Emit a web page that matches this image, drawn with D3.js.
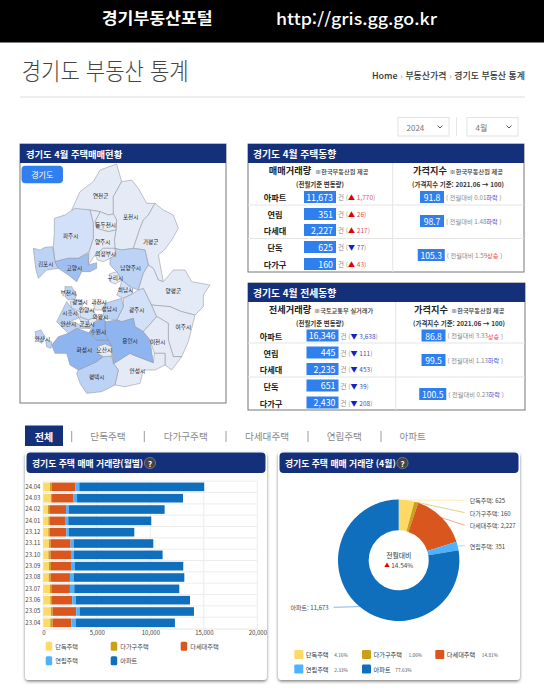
<!DOCTYPE html>
<html lang="ko"><head><meta charset="utf-8">
<style>html,body{margin:0;padding:0;background:#fff;overflow:hidden}svg{display:block}
text{font-family:"Noto Sans CJK KR","Noto Sans",sans-serif}</style>
<script src="https://cdnjs.cloudflare.com/ajax/libs/d3/7.9.0/d3.min.js"></script></head><body>
<svg id="c" width="544" height="697" xmlns="http://www.w3.org/2000/svg"></svg>
<script>
// ---------- DATA ----------
const types=["단독주택","다가구주택","다세대주택","연립주택","아파트"];
const typeColors=["#ffd966","#c9a017","#d9561f","#4db3ff","#0f6fbd"];
const months=["24.04","24.03","24.02","24.01","23.12","23.11","23.10","23.09","23.08","23.07","23.06","23.05","23.04"];
const detached=[625,702,430,470,470,530,480,530,520,620,650,715,650];
const multiFamily=[160,117,130,130,130,155,200,186,170,130,160,155,220];
const multiplex=[2227,2010,1560,1425,1550,1870,1905,1869,1800,1740,1900,2215,1745];
const rowHouse=[351,325,250,310,250,280,281,375,345,405,340,310,405];
const apartment=[11673,9903,8970,7755,6105,7445,8284,10120,10345,9815,10660,10685,9280];
const xTicks=[0,5000,10000,15000,20000];
const pieValues=[625,160,2227,351,11673];
const piePercents=["4.16%","1.06%","14.81%","2.33%","77.63%"];
const tabs=["전체","단독주택","다가구주택","다세대주택","연립주택","아파트"];
const saleRows=[["아파트","11,673","up","1,770"],["연립","351","up","26"],["다세대","2,227","up","217"],["단독","625","down","77"],["다가구","160","up","43"]];
const salePrices=[["91.8","0.01","하락"],["98.7","1.48","하락"],["105.3","1.59","상승"]];
const rentRows=[["아파트","16,346","down","3,638"],["연립","445","down","111"],["다세대","2,235","down","453"],["단독","651","down","39"],["다가구","2,430","down","208"]];
const rentPrices=[["86.8","3.33","상승"],["99.5","1.13","하락"],["100.5","0.23","하락"]];
const mapShades=["#e5ebf6","#d2e1f8","#bdd3f6","#9fbff2","#8fb5f0"];
const mapRegions=[
["연천군",0,257,167,[[170,210],[195,155],[235,125],[255,90],[305,72],[320,125],[295,170],[295,222],[280,225],[255,215],[225,210]]],
["포천시",0,347,232,[[295,222],[295,170],[320,125],[350,120],[370,145],[395,190],[420,190],[400,225],[385,240],[375,265],[355,325],[320,330],[300,325],[298,300],[303,270],[305,240]]],
["가평군",0,407,305,[[420,190],[445,210],[475,225],[490,265],[470,300],[448,330],[430,345],[445,425],[430,420],[415,385],[400,375],[390,330],[355,325],[375,265],[385,240],[400,225]]],
["동두천시",0,272,255,[[240,245],[255,215],[280,225],[295,222],[305,240],[303,270],[280,275],[245,265]]],
["양주시",0,263,307,[[225,210],[255,215],[240,245],[245,265],[280,275],[303,270],[298,300],[300,325],[265,325],[240,345],[220,375],[222,335],[235,295],[235,250]]],
["파주시",1,167,289,[[118,235],[150,225],[180,205],[225,210],[235,250],[235,295],[222,335],[190,355],[160,355],[120,365],[115,320],[118,280]]],
["김포시",2,92,371,[[55,325],[75,330],[90,322],[113,320],[120,365],[130,385],[95,390],[70,415],[62,385],[58,350]]],
["고양시",3,178,385,[[120,365],[160,355],[190,355],[220,340],[220,375],[245,368],[245,385],[225,395],[200,395],[185,425],[160,405],[130,385]]],
["의정부시",0,272,343,[[240,345],[265,325],[300,325],[303,345],[285,355],[265,365],[248,360]]],
["남양주시",2,347,384,[[285,355],[303,345],[300,325],[320,330],[355,325],[390,330],[400,375],[385,400],[370,450],[345,440],[320,420],[305,395],[285,375]]],
["구리시",0,301,413,[[283,402],[305,395],[320,420],[300,432],[285,425]]],
["하남시",1,332,451,[[320,420],[345,440],[352,462],[325,475],[305,465],[315,445]]],
["광주시",1,365,510,[[325,475],[352,462],[370,450],[385,445],[400,475],[410,495],[425,530],[385,575],[360,560],[355,535],[320,545],[305,540],[325,500]]],
["양평군",0,475,452,[[385,400],[400,375],[415,385],[430,420],[445,425],[475,390],[510,390],[530,425],[585,435],[565,465],[565,500],[540,525],[500,515],[465,500],[410,495],[400,475],[385,445],[370,450]]],
["여주시",0,505,561,[[410,495],[465,500],[500,515],[540,525],[530,565],[520,605],[500,650],[475,650],[460,600],[460,550],[430,532],[425,530]]],
["이천시",0,428,607,[[382,575],[385,575],[425,530],[430,532],[460,550],[460,600],[475,650],[500,650],[470,690],[450,675],[450,640],[418,640],[405,600]]],
["안성시",0,367,694,[[295,670],[345,640],[355,645],[415,668],[418,640],[450,640],[450,675],[420,690],[385,690],[375,730],[330,740],[300,735],[310,690]]],
["용인시",4,345,602,[[270,545],[305,540],[320,545],[355,535],[360,560],[385,575],[405,600],[415,668],[355,645],[345,640],[295,672],[290,620],[280,600],[270,580]]],
["평택시",2,245,712,[[190,690],[245,665],[265,648],[290,648],[295,670],[310,690],[300,735],[260,755],[215,760],[195,730],[185,700]]],
["화성시",4,208,630,[[110,615],[130,590],[160,580],[185,565],[222,578],[245,600],[280,600],[290,620],[270,612],[247,620],[248,640],[265,650],[245,665],[190,690],[165,675],[155,640],[120,640]]],
["오산시",0,268,630,[[247,620],[270,612],[290,620],[290,648],[265,650],[248,640]]],
["수원시",4,250,575,[[222,578],[240,545],[270,535],[270,580],[280,600],[245,600]]],
["성남시",2,283,508,[[270,490],[320,475],[325,500],[305,540],[270,535],[265,525]]],
["과천시",0,252,487,[[235,490],[270,490],[265,510],[240,510]]],
["안양시",1,215,509,[[195,515],[235,510],[245,530],[220,540],[195,530]]],
["의왕시",0,256,531,[[220,540],[245,530],[265,530],[240,545],[225,565]]],
["군포시",1,216,553,[[190,530],[220,540],[225,562],[205,560]]],
["광명시",1,195,487,[[165,485],[190,480],[205,490],[195,515],[170,505]]],
["부천시",2,160,460,[[150,440],[170,440],[185,465],[180,478],[160,480],[150,470]]],
["시흥시",2,165,519,[[125,545],[155,485],[170,505],[190,520],[190,535],[175,540],[140,560]]],
["안산시",2,160,553,[[140,560],[175,545],[205,560],[225,565],[185,565],[160,580]]],
["",2,0,0,[[60,575],[78,570],[90,590],[80,610],[65,600]]],
["",2,0,0,[[92,600],[110,605],[108,625],[95,620]]]
];
const islandLabel=["안산시",82,596];
// ---------- DRAW ----------
const svg=d3.select("#c");
const F='"Noto Sans CJK KR","Noto Sans",sans-serif';
function T(g,x,y,s,size,fill,opt={}){const t=g.append("text").attr("x",x).attr("y",y).attr("font-size",size).attr("fill",fill).attr("text-anchor",opt.a||"start").attr("font-weight",opt.w||400).attr("dominant-baseline","central").text(s);if(opt.len)t.attr("textLength",opt.len).attr("lengthAdjust","spacingAndGlyphs");return t}
const NAVY="#14307a",BLUE="#2f7fef";
svg.append("rect").attr("width",544).attr("height",42.5).attr("fill","#000");
T(svg,101.7,17,"경기부동산포털",15.5,"#fff",{w:700,len:111});
T(svg,276,18,"http://gris.gg.go.kr",16,"#fff",{w:500,len:161});
T(svg,21.7,69,"경기도 부동산 통계",24,"#444",{w:300,len:167});
const crumb=T(svg,372,75,"Home",8.8,"#333",{w:500});
["부동산가격","경기도 부동산 통계"].forEach(s=>{crumb.append("tspan").attr("fill","#aaa").text(" › ");crumb.append("tspan").text(s)});
crumb.attr("textLength",153).attr("lengthAdjust","spacingAndGlyphs");
svg.append("line").attr("x1",20).attr("x2",525).attr("y1",97).attr("y2",97).attr("stroke","#ddd");
[[398,"2024"],[467,"4월"]].forEach(([X,s])=>{
 svg.append("rect").attr("x",X).attr("y",117.5).attr("width",51).attr("height",18.5).attr("fill","#fff").attr("stroke","#e2e2e2");
 T(svg,X+8.5,127,s,8,"#777");
 svg.append("path").attr("d",`M${X+39.5} 125.5l2.5 2.5l2.5-2.5`).attr("fill","none").attr("stroke","#555").attr("stroke-width",1);
});
svg.append("line").attr("x1",456.5).attr("x2",456.5).attr("y1",117).attr("y2",136).attr("stroke","#e5e5e5");

// map panel
svg.append("rect").attr("x",20).attr("y",144).attr("width",206).attr("height",259).attr("fill","#fff").attr("stroke","#777");
svg.append("rect").attr("x",20).attr("y",144).attr("width",206).attr("height",19).attr("fill",NAVY);
T(svg,26,153.5,"경기도 4월 주택매매현황",9.3,"#fff",{w:700});
svg.append("rect").attr("x",21.5).attr("y",165.7).attr("width",41.5).attr("height",17.5).attr("rx",4).attr("fill",BLUE);
T(svg,42.3,174.5,"경기도",8,"#fff",{a:"middle"});
const mx=d3.scaleLinear().domain([0,675]).range([15,240]),my=d3.scaleLinear().domain([0,810]).range([140,410]);
const outline=d3.line().x(d=>mx(d[0])).y(d=>my(d[1])).curve(d3.curveLinearClosed);
const mapG=svg.append("g");
mapG.selectAll("path").data(mapRegions).join("path").attr("d",d=>outline(d[4])).attr("fill",d=>mapShades[d[1]]).attr("stroke","#8f929c").attr("stroke-width",.55).attr("stroke-linejoin","round");
mapRegions.filter(d=>d[0]).forEach(d=>T(mapG,mx(d[2]),my(d[3]),d[0],5.6,"#222",{a:"middle"}));
T(mapG,mx(islandLabel[1]),my(islandLabel[2]),islandLabel[0],5.6,"#223",{a:"middle"});

// tables
function panel(o){
 const g=svg.append("g");const x0=248,w=o.w;
 g.append("rect").attr("x",x0).attr("y",o.y).attr("width",w).attr("height",o.h).attr("fill","#fff").attr("stroke","#777");
 g.append("rect").attr("x",x0).attr("y",o.y).attr("width",w).attr("height",19).attr("fill",NAVY);
 T(g,253,o.y+9.8,o.title,9.8,"#fff",{w:700});
 g.append("line").attr("x1",o.vx).attr("x2",o.vx).attr("y1",o.y+19).attr("y2",o.y+o.h).attr("stroke","#e4e4e4");
 o.divs.forEach(y=>g.append("line").attr("x1",x0).attr("x2",x0+w).attr("y1",y).attr("y2",y).attr("stroke","#e4e4e4"));
 T(g,o.hx1,o.y+26,o.h1,9.2,"#222",{a:"middle",w:700});
 T(g,o.sx1,o.y+27,o.src1,6.2,"#333",{w:500});
 T(g,o.hx1+30,o.y+40,"(전월기준 변동량)",6.4,"#333",{a:"middle",w:700});
 T(g,o.hx2,o.y+26,"가격지수",9.2,"#222",{a:"middle",w:700});
 T(g,o.sx2,o.y+27,"※한국부동산원 제공",6.2,"#333",{w:500});
 T(g,o.hx2+28,o.y+40,"(가격지수 기준: 2021.06 → 100)",6.4,"#333",{a:"middle",w:700});
 o.rows.forEach((r,i)=>{const y=o.rowY[i];
  T(g,o.nx,y,r[0],8.2,"#222",{a:"middle",w:700});
  g.append("rect").attr("x",o.bx).attr("y",y-6).attr("width",32).attr("height",12).attr("fill",BLUE);
  T(g,o.bx+29,y,r[1],8.8,"#fff",{a:"end"});
  const up=r[2]==="up";
  const t=T(g,o.bx+34,y,"건 (",6.5,"#888");
  t.append("tspan").attr("fill",up?"#e00000":"#1420c8").attr("font-size",7).text(up?"▲":"▼");
  t.append("tspan").attr("fill",up?"#f04a4a":"#3f4fc0").text(" "+r[3]);
  t.append("tspan").attr("fill","#888").text(")");
 });
 o.prices.forEach((p,i)=>{const y=o.priceY[i],bw=p[0].length>4?27:24,bx=o.px-(bw-24)*.75;
  g.append("rect").attr("x",bx).attr("y",y-6).attr("width",bw).attr("height",12).attr("fill",BLUE);
  T(g,bx+bw/2,y,p[0],8.6,"#fff",{a:"middle"});
  const t=T(g,bx+bw+2,y,"( 전월대비 "+p[1],6.2,"#888");
  t.append("tspan").attr("fill",p[2]==="상승"?"#f03a3a":"#4a55d0").text(p[2]);
  t.append("tspan").attr("fill","#888").text(" )");
 });
}
panel({y:144,h:128,w:276,title:"경기도 4월 주택동향",vx:392.7,divs:[205,238.5],hx1:290,sx1:315,h1:"매매거래량",src1:"※한국부동산원 제공",hx2:430,sx2:449.5,nx:275,bx:304,rows:saleRows,rowY:[197,214,230,247,264],prices:salePrices,priceY:[197,221,255],px:420});
panel({y:283,h:127,w:277,title:"경기도 4월 전세동향",vx:395.7,divs:[343,377],hx1:290,sx1:314,h1:"전세거래량",src1:"※국토교통부 실거래가",hx2:431,sx2:451,nx:271,bx:306.5,rows:rentRows,rowY:[335.5,352.5,369,385.5,402.5],prices:rentPrices,priceY:[335.5,360,394],px:421.5});

// tabs
const tabX=[44,108,185.7,267,344.3,412.7],sepX=[71.7,144.3,226,308,381];
svg.append("rect").attr("x",25).attr("y",425.5).attr("width",38).attr("height",20.5).attr("fill",NAVY);
tabs.forEach((s,i)=>T(svg,tabX[i],436,s,i?9.6:10,i?"#888":"#fff",{a:"middle",w:i?400:700}));
sepX.forEach(x=>svg.append("line").attr("x1",x).attr("x2",x).attr("y1",431).attr("y2",442).attr("stroke","#9a9a9a"));

// cards
const defs=svg.append("defs");
const fl=defs.append("filter").attr("id","sh").attr("x","-5%").attr("y","-5%").attr("width","110%").attr("height","112%");
fl.append("feDropShadow").attr("dx",0).attr("dy",1.5).attr("stdDeviation",1.8).attr("flood-color","#000").attr("flood-opacity",.5);
function card(x,w,title,qx){
 svg.append("rect").attr("x",x).attr("y",452).attr("width",w).attr("height",228).attr("rx",4).attr("fill","#fff").attr("filter","url(#sh)");
 svg.append("rect").attr("x",x+1.5).attr("y",452.5).attr("width",w-3).attr("height",20.5).attr("rx",4).attr("fill",NAVY);
 T(svg,x+7,463,title,8.8,"#fff",{w:700});
 svg.append("circle").attr("cx",qx).attr("cy",463).attr("r",5.6).attr("fill","#444").attr("stroke","#999").attr("stroke-width",.6);
 T(svg,qx,463,"?",8,"#fff",{a:"middle",w:700});
}
card(25,242,"경기도 주택 매매 거래량(월별)",150);
card(278,242,"경기도 주택 매매 거래량 (4월)",402.5);

// stacked bars
const x=d3.scaleLinear().domain([0,20000]).range([43.3,257.3]);
const y=d3.scaleBand().domain(months).range([481.2,628.5]).paddingInner(.24).paddingOuter(.12);
const rows=months.map((m,i)=>({m,"단독주택":detached[i],"다가구주택":multiFamily[i],"다세대주택":multiplex[i],"연립주택":rowHouse[i],"아파트":apartment[i]}));
const stack=d3.stack().keys(types)(rows);
const color=d3.scaleOrdinal(types,typeColors);
const gridG=svg.append("g");
gridG.selectAll("line.v").data(xTicks).join("line").attr("x1",d=>x(d)).attr("x2",d=>x(d)).attr("y1",481).attr("y2",629).attr("stroke","#ececec");
const step=y.step();
gridG.selectAll("line.h").data(months).enter().append("line").attr("x1",x(0)).attr("x2",x(20000)).attr("y1",d=>y(d)-step*.12).attr("y2",d=>y(d)-step*.12).attr("stroke","#ececec");
gridG.append("line").attr("x1",x(0)).attr("x2",x(20000)).attr("y1",629).attr("y2",629).attr("stroke","#e4e4e4");
const sG=svg.selectAll("g.s").data(stack).join("g").attr("class","s").attr("fill",d=>color(d.key));
sG.selectAll("rect").data(d=>d).join("rect").attr("x",d=>x(d[0])).attr("width",d=>x(d[1])-x(d[0])).attr("y",d=>y(d.data.m)).attr("height",y.bandwidth());
const axS=g=>{g.select(".domain").remove();g.selectAll("line").remove();g.selectAll("text").attr("font-size",6).attr("fill","#444").attr("font-family",F)};
svg.append("g").attr("transform","translate(0,629)").call(d3.axisBottom(x).tickValues(xTicks).tickSize(0).tickPadding(2).tickFormat(d3.format(","))).call(axS);
svg.append("g").attr("transform","translate(43.3,0)").call(d3.axisLeft(y).tickSize(0).tickPadding(3)).call(axS);
// legends
const lx1=[45.7,110.7,180.7],ly1=[646.2,660.7];
types.forEach((s,i)=>{const X=lx1[i%3],Y=ly1[i<3?0:1];
 svg.append("rect").attr("x",X).attr("y",Y-4.5).attr("width",6.5).attr("height",9).attr("rx",1.5).attr("fill",typeColors[i]);
 T(svg,X+9.5,Y,s,6.2,"#444");
});
const lx2=[294.3,362,435.3],ly2=[654.5,669];
types.forEach((s,i)=>{const X=lx2[i%3],Y=ly2[i<3?0:1];
 svg.append("rect").attr("x",X).attr("y",Y-4.5).attr("width",9).attr("height",9).attr("rx",1.2).attr("fill",typeColors[i]);
 T(svg,X+11.5,Y,s,6.2,"#333");
 T(svg,X+11.5+s.length*6.6+2,Y,piePercents[i],4.8,"#555");
});

// donut
const cx=398.7,cy=560.3,R=60.7,r=30;
const pie=d3.pie().sort(null).value(d=>d)(pieValues);
const arc=d3.arc().innerRadius(r).outerRadius(R);
const pG=svg.append("g").attr("transform",`translate(${cx},${cy})`);
pG.selectAll("path").data(pie).join("path").attr("d",arc).attr("fill",(d,i)=>typeColors[i]);
const leadY=[-60,-47.7,-35,-14.5,47],pieLabels=["단독주택: 625","다가구주택: 160","다세대주택: 2,227","연립주택: 351","아파트: 11,673"];
pie.forEach((d,i)=>{
 const a=(d.startAngle+d.endAngle)/2,sx=Math.sin(a)*R,sy=-Math.cos(a)*R,right=i<4;
 const ex=right?66:-65;
 pG.append("line").attr("x1",sx).attr("y1",sy).attr("x2",ex).attr("y2",leadY[i]).attr("stroke",typeColors[i]).attr("stroke-opacity",.5).attr("stroke-width",1);
 T(pG,right?ex+5:ex-5,leadY[i]+.5,pieLabels[i],6,"#444",{a:right?"start":"end"});
});
T(pG,0,-5,"전월대비",6.8,"#333",{a:"middle"});
const ct=T(pG,0,5.2,"▲",5.6,"#e00000",{a:"middle"});
ct.append("tspan").attr("fill","#444").attr("font-size",6.4).text(" 14.54%");
</script></body></html>
